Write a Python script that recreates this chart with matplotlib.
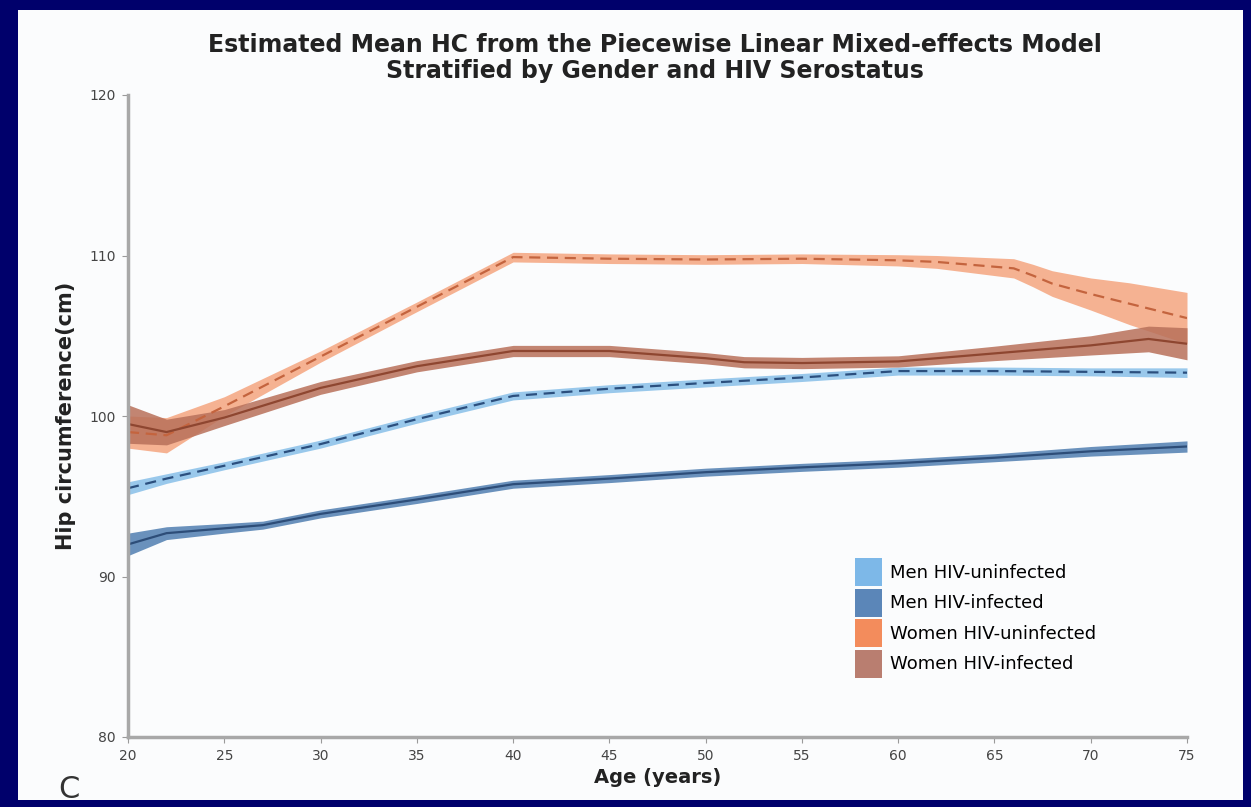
import matplotlib
matplotlib.use("Agg")
import matplotlib.pyplot as plt
from matplotlib.patches import Patch

# --- estimated mean hip circumference (cm) by age, with half-width of the band --- #

men_unf_age = [20, 22, 25, 30, 35, 40, 45, 50, 55, 60, 65, 70, 75]
men_unf_mean = [95.5, 96.1, 96.9, 98.25, 99.8, 101.25, 101.7, 102.06, 102.4, 102.8, 102.8, 102.75, 102.7]
men_unf_hw = [0.4, 0.3, 0.25, 0.25, 0.25, 0.25, 0.25, 0.25, 0.25, 0.25, 0.25, 0.25, 0.3]

men_inf_age = [20, 22, 25, 27, 30, 35, 40, 45, 50, 55, 60, 65, 70, 75]
men_inf_mean = [92.0, 92.7, 93.0, 93.2, 93.9, 94.8, 95.75, 96.1, 96.5, 96.8, 97.06, 97.4, 97.8, 98.1]
men_inf_hw = [0.7, 0.4, 0.3, 0.25, 0.25, 0.25, 0.25, 0.25, 0.25, 0.25, 0.25, 0.25, 0.3, 0.35]

wom_unf_age = [20, 22, 25, 30, 35, 40, 45, 50, 55, 60, 62, 64, 66, 67, 68, 70, 72, 75]
wom_unf_mean = [99.0, 98.8, 100.6, 103.7, 106.8, 109.9, 109.8, 109.75, 109.8, 109.7, 109.6, 109.4, 109.2, 108.75, 108.25, 107.6, 107.0, 106.1]
wom_unf_hw = [1.0, 1.1, 0.6, 0.35, 0.3, 0.3, 0.3, 0.3, 0.3, 0.35, 0.4, 0.5, 0.6, 0.7, 0.8, 1.0, 1.3, 1.6]

wom_inf_age = [20, 22, 25, 30, 35, 40, 45, 50, 52, 55, 60, 65, 70, 73, 75]
wom_inf_mean = [99.5, 99.0, 99.9, 101.75, 103.1, 104.05, 104.05, 103.6, 103.35, 103.3, 103.4, 103.9, 104.4, 104.8, 104.5]
wom_inf_hw = [1.2, 0.8, 0.5, 0.4, 0.35, 0.35, 0.35, 0.35, 0.35, 0.35, 0.35, 0.45, 0.6, 0.8, 1.0]

legend_labels = ["Men HIV-uninfected", "Men HIV-infected", "Women HIV-uninfected", "Women HIV-infected"]
legend_colors = ["#7db8e8", "#5b86b8", "#f38c5c", "#b97e70"]

x_ticks = list(range(20, 80, 5))
y_ticks = [80, 90, 100, 110, 120]


def draw_group( ax, age, mean, hw, band_color, line_color, style, band_alpha ):
	"""! @brief draw one confidence band with its mean line """
	lower = [m - h for m, h in zip(mean, hw)]
	upper = [m + h for m, h in zip(mean, hw)]
	ax.fill_between( age, lower, upper, color=band_color, alpha=band_alpha, linewidth=0 )
	ax.plot( age, mean, color=line_color, linestyle=style, linewidth=1.6 )


def main():
	fig = plt.figure( figsize=(12.51, 8.07), dpi=100, facecolor="#00006b" )
	# light panel inside the navy frame
	fig.patches.append( plt.Rectangle( (18/1251, 7/807), (1243-18)/1251, (797-7)/807,
		transform=fig.transFigure, facecolor="#fbfcfd", edgecolor="none", zorder=-1 ) )

	ax = fig.add_axes( [128/1251, 1-737/807, (1187-128)/1251, (737-95)/807] )
	ax.set_facecolor( "none" )

	draw_group( ax, men_unf_age, men_unf_mean, men_unf_hw, "#8ec3ea", "#2b4f7e", (0, (5, 3)), 0.9 )
	draw_group( ax, men_inf_age, men_inf_mean, men_inf_hw, "#5a86b5", "#2d4d78", "-", 0.9 )
	draw_group( ax, wom_unf_age, wom_unf_mean, wom_unf_hw, "#f5a57f", "#c4643e", (0, (5, 3)), 0.85 )
	draw_group( ax, wom_inf_age, wom_inf_mean, wom_inf_hw, "#b8705a", "#8e4630", "-", 0.85 )

	ax.set_xlim( 20, 75 )
	ax.set_ylim( 80, 120 )
	ax.set_xticks( x_ticks )
	ax.set_yticks( y_ticks )
	ax.tick_params( labelsize=10, length=4, pad=5, color="#9a9a9a", labelcolor="#444444" )
	for side in ["top", "right"]:
		ax.spines[side].set_visible( False )
	for side in ["left", "bottom"]:
		ax.spines[side].set_color( "#a8a8a8" )
		ax.spines[side].set_linewidth( 2.5 )

	ax.set_xlabel( "Age (years)", fontsize=14, fontweight="bold", color="#222222", labelpad=3 )
	ax.set_ylabel( "Hip circumference(cm)", fontsize=15, fontweight="bold", color="#222222", labelpad=9 )

	fig.text( 655/1251, 1-58/807, "Estimated Mean HC from the Piecewise Linear Mixed-effects Model\nStratified by Gender and HIV Serostatus",
		ha="center", va="center", fontsize=17, fontweight="bold", color="#222222", linespacing=1.15 )
	fig.text( 58/1251, 1-790/807, "C", fontsize=22, color="#333333", ha="left", va="center" )

	handles = [Patch( facecolor=c, edgecolor="none" ) for c in legend_colors]
	fig.legend( handles, legend_labels, loc="upper left", bbox_to_anchor=(855/1251, 1-558/807),
		frameon=False, fontsize=13, handlelength=1.5, handleheight=2.0, labelspacing=0.15,
		handletextpad=0.45, borderpad=0, borderaxespad=0 )

	fig.savefig( "out.png", dpi=100, facecolor=fig.get_facecolor() )


main()
